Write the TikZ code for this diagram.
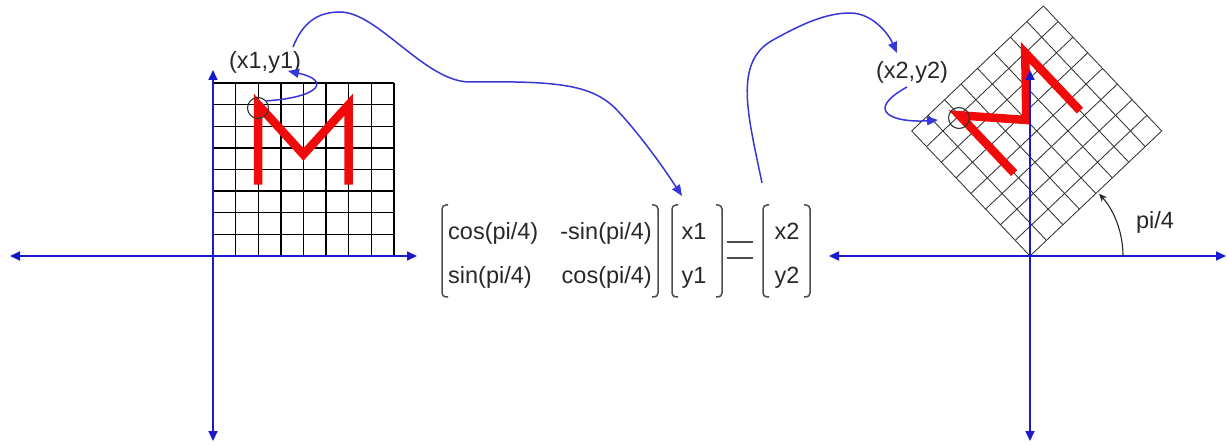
\documentclass[tikz,border=0pt]{standalone}
\usepackage{fontspec}
\setmainfont{Liberation Sans}
\usetikzlibrary{arrows.meta}
\definecolor{axisblue}{RGB}{25,25,205}
\definecolor{curveblue}{RGB}{55,55,215}
\definecolor{mred}{RGB}{240,10,10}
\definecolor{txt}{RGB}{40,40,40}
\begin{document}
\begin{tikzpicture}[x=1pt,y=-1pt,
  axis/.style={draw=axisblue, line width=1.7pt, {Triangle[length=10pt,width=9pt]}-{Triangle[length=10pt,width=9pt]}},
  gridA/.style={black, line width=1.4pt},
  gridB/.style={black!80, line width=0.85pt},
  mstroke/.style={draw=mred, line width=8.5pt, line join=miter},
  ring/.style={circle, draw=black!80, line width=1.1pt, minimum size=21pt, inner sep=0pt},
  conn/.style={draw=curveblue, line width=1.5pt, -{Triangle[length=11pt,width=9pt]}},
  lbl/.style={text=txt, font=\fontsize{23.5}{28}\selectfont, inner sep=0pt},
  brk/.style={draw=black!70, line width=1.5pt, rounded corners=4pt},
  eqbar/.style={draw=black!70, line width=2pt},
  angarrow/.style={draw=black!85, line width=1.1pt, -{Stealth[length=8pt,width=7pt]}}
  ]
\useasboundingbox (0,0) rectangle (1227,446);

% ---------- left picture ----------
\foreach \i in {0,...,8} {
  \draw[gridA] (213+22.6*\i,256) -- (213+22.6*\i,83.2);
  \draw[gridA] (213,256-21.6*\i) -- (393.8,256-21.6*\i);
}
\draw[mstroke] (258.2,184.7) -- (258.2,104.8) -- (303.4,154.5) -- (348.6,104.8) -- (348.6,184.7);
\draw[axis] (10,256) -- (417,256);
\draw[axis] (213,70) -- (213,441);
\node[ring] (c1) at (258,108) {};
\node[lbl] (l1) at (265,62) {(x1,y1)};

% ---------- right picture ----------
\begin{scope}[shift={(1030,256)}, x={(16.46pt,15.63pt)}, y={(-14.79pt,15.63pt)}]
  \foreach \i in {0,...,8} {
    \draw[gridB] (\i,0) -- (\i,8);
    \draw[gridB] (0,\i) -- (8,\i);
  }
  \draw[mstroke] (2,3.3) -- (2,7) -- (4,4.7) -- (6,7) -- (6,3.3);
\end{scope}
\draw[axis] (829,256) -- (1226,256);
\draw[axis] (1030,70) -- (1030,441);
\node[ring] (c2) at (959,118) {};
\node[lbl] (l2) at (912,72) {(x2,y2)};
\node[lbl] (ang) at (1155,222) {pi/4};
\draw[angarrow] (1123,256) arc[start angle=0, end angle=42, radius=93pt];

% ---------- matrix equation ----------
\node[lbl, anchor=base west] (m11) at (448,240) {cos(pi/4)};
\node[lbl, anchor=base east] (m12) at (652,240) {-sin(pi/4)};
\node[lbl, anchor=base west] (m21) at (448,284) {sin(pi/4)};
\node[lbl, anchor=base east] (m22) at (652,284) {cos(pi/4)};
\node[lbl, anchor=base] (vx1) at (694,240) {x1};
\node[lbl, anchor=base] (vy1) at (694,284) {y1};
\node[lbl, anchor=base] (vx2) at (787,240) {x2};
\node[lbl, anchor=base] (vy2) at (787,284) {y2};
% brackets
\draw[brk] (448,205) -- (442,205) -- (442,297) -- (448,297);
\draw[brk] (652,205) -- (658,205) -- (658,297) -- (652,297);
\draw[brk] (678,205) -- (672,205) -- (672,297) -- (678,297);
\draw[brk] (716,205) -- (722,205) -- (722,297) -- (716,297);
\draw[brk] (769,205) -- (763,205) -- (763,297) -- (769,297);
\draw[brk] (804,205) -- (810,205) -- (810,297) -- (804,297);
% equals sign
\draw[eqbar] (727,242) -- (753,242);
\draw[eqbar] (727,258) -- (753,258);

% ---------- connectors ----------
\coordinate (t1) at (288,71);
\coordinate (s2) at (293,47);
\coordinate (t2) at (682,196);
\coordinate (s3) at (762,183);
\coordinate (t3) at (897,53);
\coordinate (s4) at (907,87);
\coordinate (t4) at (938,120);

\draw[conn] (c1.40) .. controls (322,97) and (330,80) .. (t1);
\draw[conn] (s2) .. controls (303,22) and (318,12) .. (340,12)
  .. controls (378,12) and (425,82) .. (470,82)
  .. controls (555,81) and (590,84) .. (615,108)
  .. controls (640,134) and (665,170) .. (t2);
\draw[conn] (s3) .. controls (748,115) and (733,62) .. (773,40)
  .. controls (800,25) and (825,13) .. (850,13)
  .. controls (872,13) and (888,33) .. (t3);
\draw[conn] (s4) .. controls (862,112) and (895,123) .. (t4);
\end{tikzpicture}
\end{document}
